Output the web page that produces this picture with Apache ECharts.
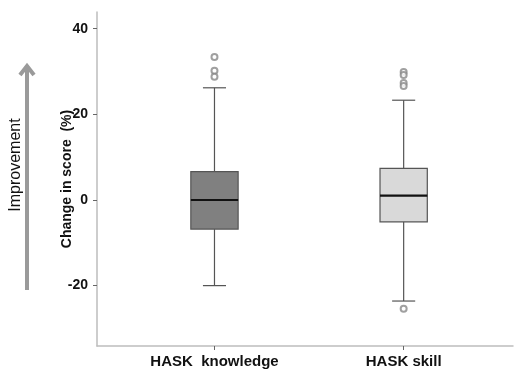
<!DOCTYPE html>
<html>
<head>
<meta charset="utf-8">
<script src="https://cdn.jsdelivr.net/npm/echarts@6/dist/echarts.min.js"></script>
<style>
html,body{margin:0;padding:0;background:#fff;}
#chart{width:514px;height:371px;}
</style>
</head>
<body>
<div id="chart"></div>
<script>
// ---- data ----
var categories = ['HASK  knowledge', 'HASK skill'];
// [min, Q1, median, Q3, max]
var knowledgeStats = [-20.0, -6.8, 0.0, 6.6, 26.2];
var skillStats = [-23.6, -5.1, 1.0, 7.4, 23.3];
var knowledgeOutliers = [33.4, 30.2, 28.8];
var skillOutliers = [29.9, 29.2, 27.3, 26.6, -25.4];
var yTicks = [-20, 0, 20, 40];

// ---- build ----
var boxFill = ['#808080', '#d9d9d9'];
var boxData = [
  [1].concat(knowledgeStats),
  [2].concat(skillStats)
];
var outlierData = [];
knowledgeOutliers.forEach(function (v) { outlierData.push([1, v]); });
skillOutliers.forEach(function (v) { outlierData.push([2, v]); });

var chart = echarts.init(document.getElementById('chart'));
var font = '"Liberation Sans", Arial, sans-serif';

chart.setOption({
  animation: false,
  backgroundColor: '#fff',
  grid: { left: 97, right: 1, top: 12, bottom: 25 },
  xAxis: {
    type: 'value',
    min: 0.379, max: 2.578,
    splitLine: { show: false },
    axisLine: { show: true, onZero: false, lineStyle: { color: '#bdbdbd', width: 1.5 } },
    axisTick: { show: true, customValues: [1, 2], length: 4, lineStyle: { color: '#666' } },
    axisLabel: {
      customValues: [1, 2],
      formatter: function (v) { return categories[Math.round(v) - 1]; },
      fontFamily: font, fontWeight: 'bold', fontSize: 15, color: '#111', margin: 8
    }
  },
  yAxis: {
    type: 'value',
    min: -34.1, max: 43.9,
    splitLine: { show: false },
    axisLine: { show: true, lineStyle: { color: '#bdbdbd', width: 1.5 } },
    axisTick: { show: true, customValues: yTicks, length: 4, lineStyle: { color: '#666' } },
    axisLabel: {
      customValues: yTicks,
      fontFamily: font, fontWeight: 'bold', fontSize: 14, color: '#111', margin: 9
    },
    name: 'Change in score  (%)',
    nameLocation: 'middle',
    nameRotate: 90,
    nameGap: 23,
    nameMoveOverlap: false,
    nameTextStyle: { fontFamily: font, fontWeight: 'bold', fontSize: 14, color: '#111', padding: 0 }
  },
  graphic: [
    {
      type: 'group',
      children: [
        { type: 'line', shape: { x1: 27, y1: 290, x2: 27, y2: 68 },
          style: { stroke: '#9a9a9a', lineWidth: 4 } },
        { type: 'polyline', shape: { points: [[20, 75], [27, 66], [34, 75]] },
          style: { stroke: '#9a9a9a', lineWidth: 4, fill: null, lineJoin: 'miter' } }
      ]
    },
    {
      type: 'text',
      x: 16, y: 165,
      rotation: Math.PI / 2,
      style: {
        text: 'Improvement', fill: '#111',
        font: '16px ' + font,
        align: 'center', verticalAlign: 'middle'
      }
    }
  ],
  series: [
    {
      type: 'custom',
      data: boxData,
      encode: { x: 0, y: [1, 2, 3, 4, 5] },
      renderItem: function (params, api) {
        var x = api.value(0);
        var mn = api.coord([x, api.value(1)]);
        var q1 = api.coord([x, api.value(2)]);
        var md = api.coord([x, api.value(3)]);
        var q3 = api.coord([x, api.value(4)]);
        var mx = api.coord([x, api.value(5)]);
        var bw = api.size([0.25, 0])[0];
        var cw = api.size([0.122, 0])[0];
        var cx = mn[0];
        var wl = { stroke: '#555', lineWidth: 1.2 };
        return {
          type: 'group',
          children: [
            { type: 'line', shape: { x1: cx, y1: mx[1], x2: cx, y2: q3[1] }, style: wl },
            { type: 'line', shape: { x1: cx, y1: q1[1], x2: cx, y2: mn[1] }, style: wl },
            { type: 'line', shape: { x1: cx - cw / 2, y1: mx[1], x2: cx + cw / 2, y2: mx[1] }, style: wl },
            { type: 'line', shape: { x1: cx - cw / 2, y1: mn[1], x2: cx + cw / 2, y2: mn[1] }, style: wl },
            { type: 'rect', shape: { x: cx - bw / 2, y: q3[1], width: bw, height: q1[1] - q3[1] },
              style: { fill: boxFill[params.dataIndex], stroke: '#555', lineWidth: 1.2 } },
            { type: 'line', shape: { x1: cx - bw / 2, y1: md[1], x2: cx + bw / 2, y2: md[1] },
              style: { stroke: '#111', lineWidth: 2.2 } }
          ]
        };
      }
    },
    {
      type: 'scatter',
      data: outlierData,
      symbol: 'emptyCircle',
      symbolSize: 6,
      itemStyle: { color: '#888', borderColor: '#888', borderWidth: 1 }
    }
  ]
});
</script>
</body>
</html>
